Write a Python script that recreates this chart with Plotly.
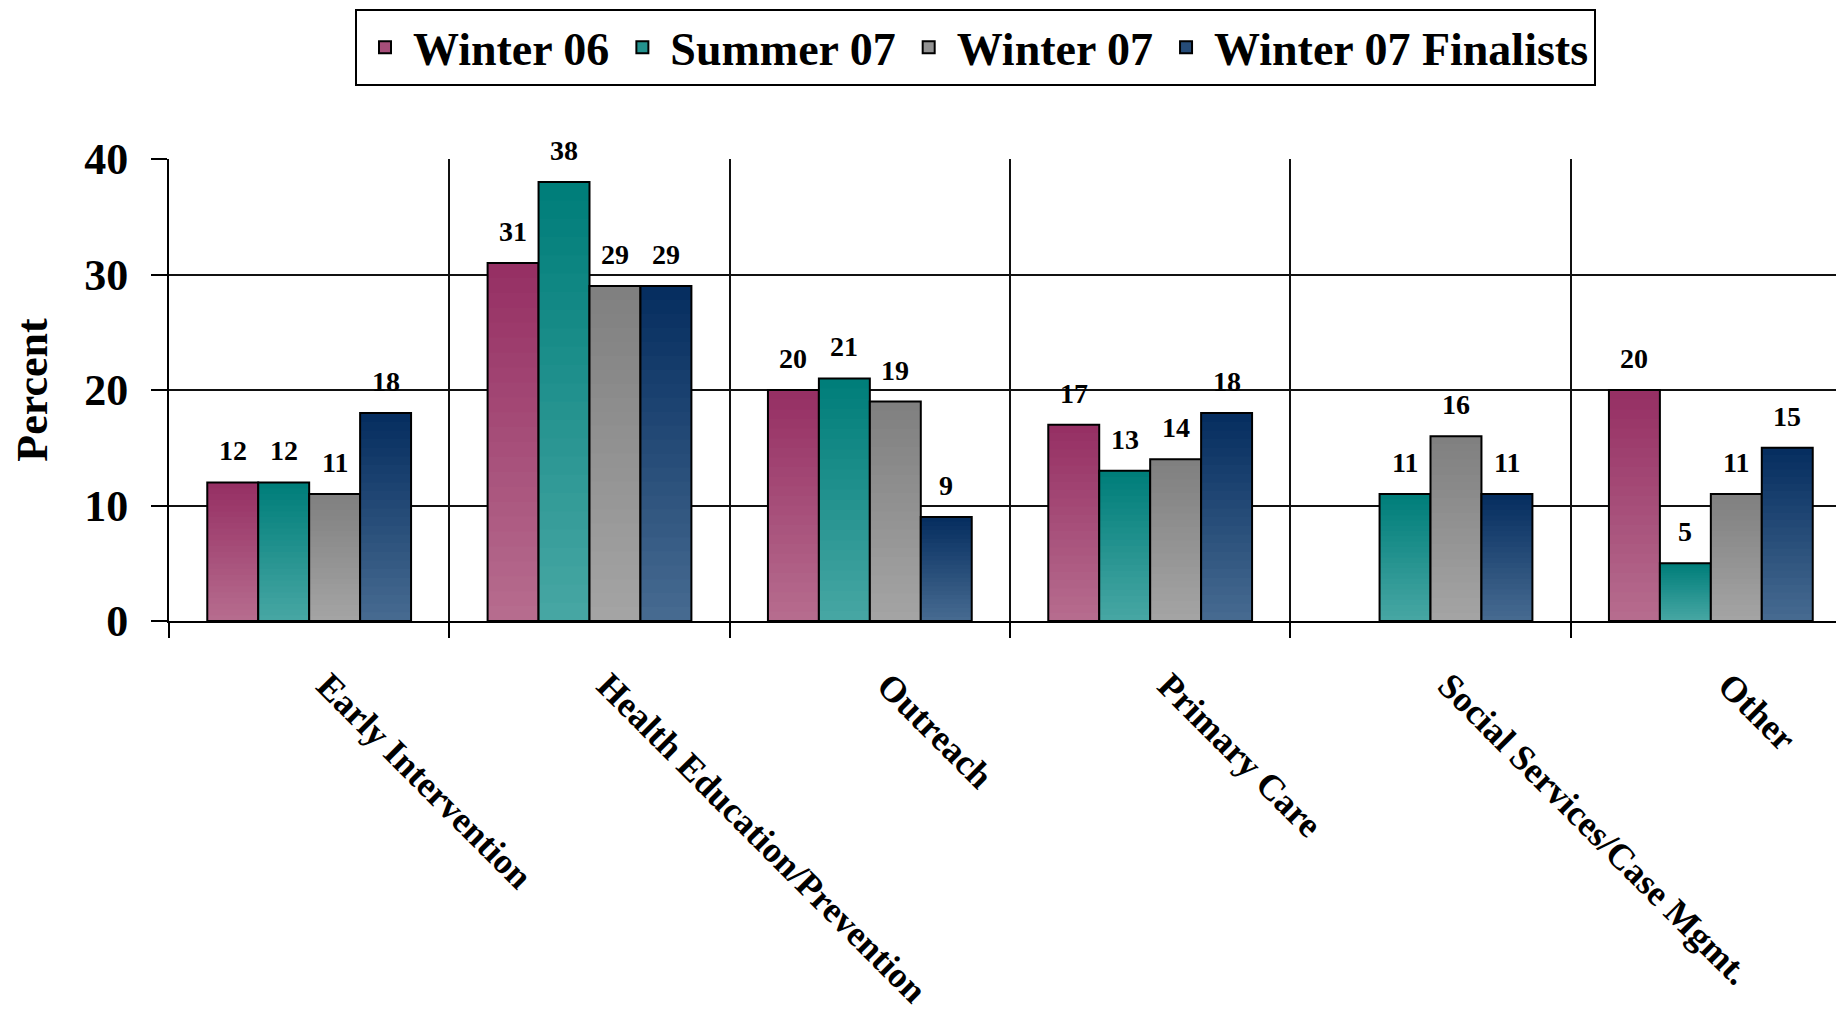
import plotly.graph_objects as go

categories = ["Early Intervention", "Health Education/Prevention", "Outreach",
              "Primary Care", "Social Services/Case Mgmt.", "Other"]
series_names = ["Winter 06", "Summer 07", "Winter 07", "Winter 07 Finalists"]
winter06 = [12, 31, 20, 17, None, 20]
summer07 = [12, 38, 21, 13, 11, 5]
winter07 = [11, 29, 19, 14, 16, 11]
finalists = [18, 29, 9, 18, 11, 15]
y_ticks = [0, 10, 20, 30, 40]

series_values = [winter06, summer07, winter07, finalists]
# (top dark colour, bottom light colour)
grad_colors = [((150, 48, 100), (182, 108, 142)),
               ((0, 126, 122), (70, 166, 163)),
               ((128, 128, 128), (164, 164, 164)),
               ((6, 46, 96), (70, 106, 144))]

FONT = "Liberation Serif"
BARGAP = 0.273
N_STEPS = 24

fig = go.Figure()


def rgb(c):
    return "rgb(%d,%d,%d)" % tuple(int(round(v)) for v in c)


for j, (name, vals) in enumerate(zip(series_names, series_values)):
    dark, light = grad_colors[j]
    # gradient: overlapping bars in the same offset group, shorter ones lighter
    for k in range(N_STEPS):
        frac = (N_STEPS - k) / N_STEPS
        t = k / (N_STEPS - 1)
        col = tuple(d + (l - d) * t for d, l in zip(dark, light))
        fig.add_trace(go.Bar(
            x=categories,
            y=[None if v is None else v * frac for v in vals],
            offsetgroup=str(j), marker=dict(color=rgb(col), line=dict(width=0)),
            showlegend=False, hoverinfo="skip"))
    # outline
    fig.add_trace(go.Bar(
        x=categories, y=vals, offsetgroup=str(j), name=name,
        marker=dict(color="rgba(0,0,0,0)", line=dict(color="black", width=2)),
        showlegend=False))
    # legend entry
    mid = tuple((d + l) / 2 for d, l in zip(dark, light))
    fig.add_trace(go.Bar(
        x=[categories[0]], y=[None], offsetgroup=str(j), name=name,
        marker=dict(color=rgb(mid), line=dict(color="black", width=2)),
        showlegend=True))

# value labels
annotations = []
w = (1 - BARGAP) / len(series_names)
for j, vals in enumerate(series_values):
    for i, v in enumerate(vals):
        if v is None:
            continue
        annotations.append(dict(
            x=i + (j - (len(series_names) - 1) / 2) * w, y=v, xref="x", yref="y",
            text=str(v), showarrow=False, yanchor="bottom", yshift=14,
            font=dict(family=FONT, size=28, color="black", weight="bold")))

# page body adds an 8px offset, so the figure is sized 8px smaller
fig.update_layout(
    width=1836, height=1003,
    margin=dict(l=161, r=0, t=151, b=390, autoexpand=False),
    paper_bgcolor="white", plot_bgcolor="white",
    barmode="group", bargap=BARGAP, bargroupgap=0,
    annotations=annotations,
    legend=dict(orientation="h", x=0.4815, xanchor="center", y=1.325, yanchor="top",
                bgcolor="white", bordercolor="black", borderwidth=2,
                itemwidth=46,
                font=dict(family=FONT, size=46, color="black", weight="bold"),
                traceorder="normal"),
    xaxis=dict(type="category", categoryorder="array", categoryarray=categories,
               range=[-0.5, 5.475], tickson="boundaries", ticks="outside",
               ticklen=15, tickwidth=2, tickcolor="black",
               showgrid=True, gridcolor="#111", gridwidth=1.5,
               showline=True, linecolor="black", linewidth=2,
               tickangle=45, ticklabelstandoff=27, ticklabelshift=18,
               tickfont=dict(family=FONT, size=36, color="black", weight="bold")),
    yaxis=dict(range=[0, 40], tickvals=y_ticks, ticks="outside", ticklen=16,
               tickwidth=2, tickcolor="black", showgrid=True, gridcolor="#111",
               gridwidth=1.5, zeroline=False, showline=True, linecolor="black",
               linewidth=2, ticklabelstandoff=14,
               tickfont=dict(family=FONT, size=44, color="black", weight="bold"),
               title=dict(text="Percent", standoff=30,
                          font=dict(family=FONT, size=44, color="black", weight="bold"))),
)

fig.write_html("out.html")
